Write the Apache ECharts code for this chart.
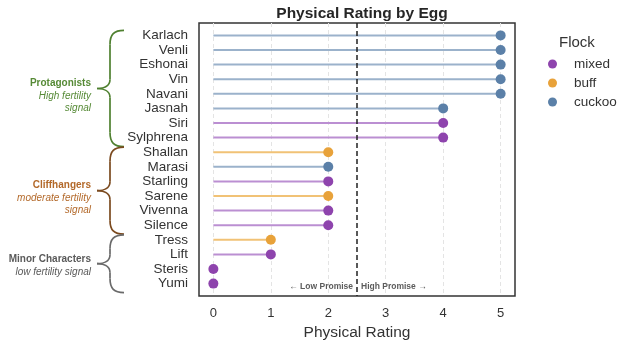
<!DOCTYPE html>
<html>
<head>
<meta charset="utf-8">
<script src="https://cdn.jsdelivr.net/npm/echarts@6/dist/echarts.min.js"></script>
<style>
  html, body { margin: 0; padding: 0; background: #fff; }
  #main { width: 623px; height: 350px; }
</style>
</head>
<body>
<div id="main"></div>
<script>
// rows, top to bottom
var names = ['Karlach', 'Venli', 'Eshonai', 'Vin', 'Navani', 'Jasnah', 'Siri', 'Sylphrena',
  'Shallan', 'Marasi', 'Starling', 'Sarene', 'Vivenna', 'Silence',
  'Tress', 'Lift', 'Steris', 'Yumi'];
var ratings = [5, 5, 5, 5, 5, 4, 4, 4, 2, 2, 2, 2, 2, 2, 1, 1, 0, 0];
var flocks = ['cuckoo', 'cuckoo', 'cuckoo', 'cuckoo', 'cuckoo', 'cuckoo', 'mixed', 'mixed',
  'buff', 'cuckoo', 'mixed', 'buff', 'mixed', 'mixed',
  'buff', 'mixed', 'mixed', 'mixed'];
var xTicks = [0, 1, 2, 3, 4, 5];
var threshold = 2.5;

var flockNames = ['mixed', 'buff', 'cuckoo'];
var dotColors = { mixed: '#8e44ad', buff: '#e8a23a', cuckoo: '#5b80a8' };
var stemColors = { mixed: '#bb8fd2', buff: '#f1c276', cuckoo: '#9bb2cb' };

// brace groups: label, sub label lines, first row, last row
var groupTitles = ['Protagonists', 'Cliffhangers', 'Minor Characters'];
var groupSubs = [['High fertility', 'signal'], ['moderate fertility', 'signal'], ['low fertility signal']];
var groupFirst = [0, 8, 14];
var groupLast = [7, 13, 17];
var groupTextColors = ['#568a36', '#b3692a', '#5a5a5a'];
var groupBraceColors = ['#4f8030', '#7b4a1f', '#6a6a6a'];

var FONT = '"Liberation Sans", Arial, sans-serif';
var rowIdx = names.map(function (n, i) { return i; });

var series = [];
flockNames.forEach(function (f) {
  var pts = [];
  names.forEach(function (n, i) {
    if (flocks[i] == f) pts.push([ratings[i], i]);
  });
  // stems
  series.push({
    name: f + '-stem',
    type: 'custom',
    silent: true,
    z: 2,
    data: pts,
    renderItem: function (params, api) {
      var a = api.coord([0, api.value(1)]);
      var b = api.coord([api.value(0), api.value(1)]);
      return {
        type: 'line',
        shape: { x1: a[0], y1: a[1], x2: b[0], y2: b[1] },
        style: { stroke: stemColors[f], lineWidth: 2 }
      };
    }
  });
  // dots
  series.push({
    name: f,
    type: 'scatter',
    z: 3,
    symbolSize: 10,
    itemStyle: { color: dotColors[f], opacity: 1 },
    data: pts
  });
});

// threshold line
series.push({
  name: 'threshold',
  type: 'line',
  data: [],
  markLine: {
    silent: true,
    symbol: 'none',
    label: { show: false },
    lineStyle: { color: '#222', type: [5, 3], width: 1.5 },
    data: [{ xAxis: threshold }]
  }
});

var option = {
  animation: false,
  textStyle: { fontFamily: FONT },
  title: {
    text: 'Physical Rating by Egg',
    left: 357,
    textAlign: 'center',
    top: 1,
    textStyle: { fontSize: 15.5, fontWeight: 'bold', color: '#262626', fontFamily: FONT }
  },
  legend: {
    orient: 'vertical',
    left: 543,
    top: 52,
    itemGap: 5,
    itemWidth: 9,
    itemHeight: 9,
    icon: 'circle',
    data: flockNames,
    textStyle: { fontSize: 13.5, color: '#333', padding: [0, 0, 0, 12], fontFamily: FONT }
  },
  grid: {
    left: 199, right: 108, top: 23, bottom: 54,
    show: true, borderColor: '#333', borderWidth: 1.5, containLabel: false
  },
  xAxis: {
    type: 'value',
    min: -0.25,
    max: 5.25,
    name: 'Physical Rating',
    nameLocation: 'middle',
    nameGap: 27,
    nameTextStyle: { fontSize: 15.5, color: '#333', fontFamily: FONT },
    axisLine: { show: false },
    axisTick: { show: false, customValues: xTicks },
    axisLabel: { customValues: xTicks, fontSize: 13, color: '#333', margin: 11, fontFamily: FONT },
    splitLine: { show: true, lineStyle: { color: '#e4e4e4', type: [4, 3], width: 1 } }
  },
  yAxis: {
    type: 'value',
    inverse: true,
    min: -0.85,
    max: names.length - 1 + 0.85,
    axisLine: { show: false },
    axisTick: { show: false, customValues: rowIdx },
    splitLine: { show: false },
    axisLabel: {
      customValues: rowIdx,
      fontSize: 13.5,
      color: '#333',
      margin: 11,
      fontFamily: FONT,
      formatter: function (v) { return names[Math.round(v)] || ''; }
    }
  },
  series: series
};

var chart = echarts.init(document.getElementById('main'));
chart.setOption(option);

// braces, group labels, promise annotations
function py(v) { return chart.convertToPixel({ yAxisIndex: 0 }, v); }
function px(v) { return chart.convertToPixel({ xAxisIndex: 0 }, v); }

var gfx = [];
function seg(c, x1, y1, x2, y2) {
  gfx.push({ type: 'line', shape: { x1: x1, y1: y1, x2: x2, y2: y2 },
    style: { stroke: c, lineWidth: 1.7 } });
}
function curve(c, x1, y1, a1, b1, a2, b2, x2, y2) {
  gfx.push({ type: 'bezierCurve',
    shape: { x1: x1, y1: y1, cpx1: a1, cpy1: b1, cpx2: a2, cpy2: b2, x2: x2, y2: y2 },
    style: { stroke: c, fill: null, lineWidth: 1.7 } });
}

groupTitles.forEach(function (t, g) {
  var top = py(groupFirst[g]) - 5;
  var bot = py(groupLast[g]) + 9;
  var mid = (top + bot) / 2;
  var xr = 124, xs = 110, xt = 97;
  var c = groupBraceColors[g];
  curve(c, xr, top, xs + 4, top, xs, top + 4, xs, top + 14);
  seg(c, xs, top + 14, xs, mid - 9);
  curve(c, xs, mid - 9, xs, mid - 2, xt + 6, mid, xt, mid);
  curve(c, xt, mid, xt + 6, mid, xs, mid + 2, xs, mid + 9);
  seg(c, xs, mid + 9, xs, bot - 14);
  curve(c, xs, bot - 14, xs, bot - 4, xs + 4, bot, xr, bot);

  var subs = groupSubs[g];
  var y0 = mid - (subs.length == 2 ? 5 : 4);
  gfx.push({
    type: 'text',
    x: 91, y: y0,
    style: {
      text: t, align: 'right', verticalAlign: 'middle',
      font: 'bold 10px ' + FONT, fill: groupTextColors[g]
    }
  });
  subs.forEach(function (s, k) {
    gfx.push({
      type: 'text',
      x: 91, y: y0 + 12.5 * (k + 1),
      style: {
        text: s, align: 'right', verticalAlign: 'middle',
        font: 'italic 10px ' + FONT, fill: groupTextColors[g]
      }
    });
  });
});

var xt = px(threshold);
var yb = py(names.length - 1) + 3;
gfx.push({
  type: 'text', x: xt - 4, y: yb,
  style: { text: '\u2190 Low Promise', align: 'right', verticalAlign: 'middle', font: 'bold 8.5px ' + FONT, fill: '#5c5c5c' }
});
gfx.push({
  type: 'text', x: xt + 4, y: yb,
  style: { text: 'High Promise \u2192', align: 'left', verticalAlign: 'middle', font: 'bold 8.5px ' + FONT, fill: '#5c5c5c' }
});
gfx.push({
  type: 'text', x: 559, y: 43,
  style: { text: 'Flock', align: 'left', verticalAlign: 'middle', font: '15px ' + FONT, fill: '#333' }
});

chart.setOption({ graphic: gfx });
</script>
</body>
</html>
